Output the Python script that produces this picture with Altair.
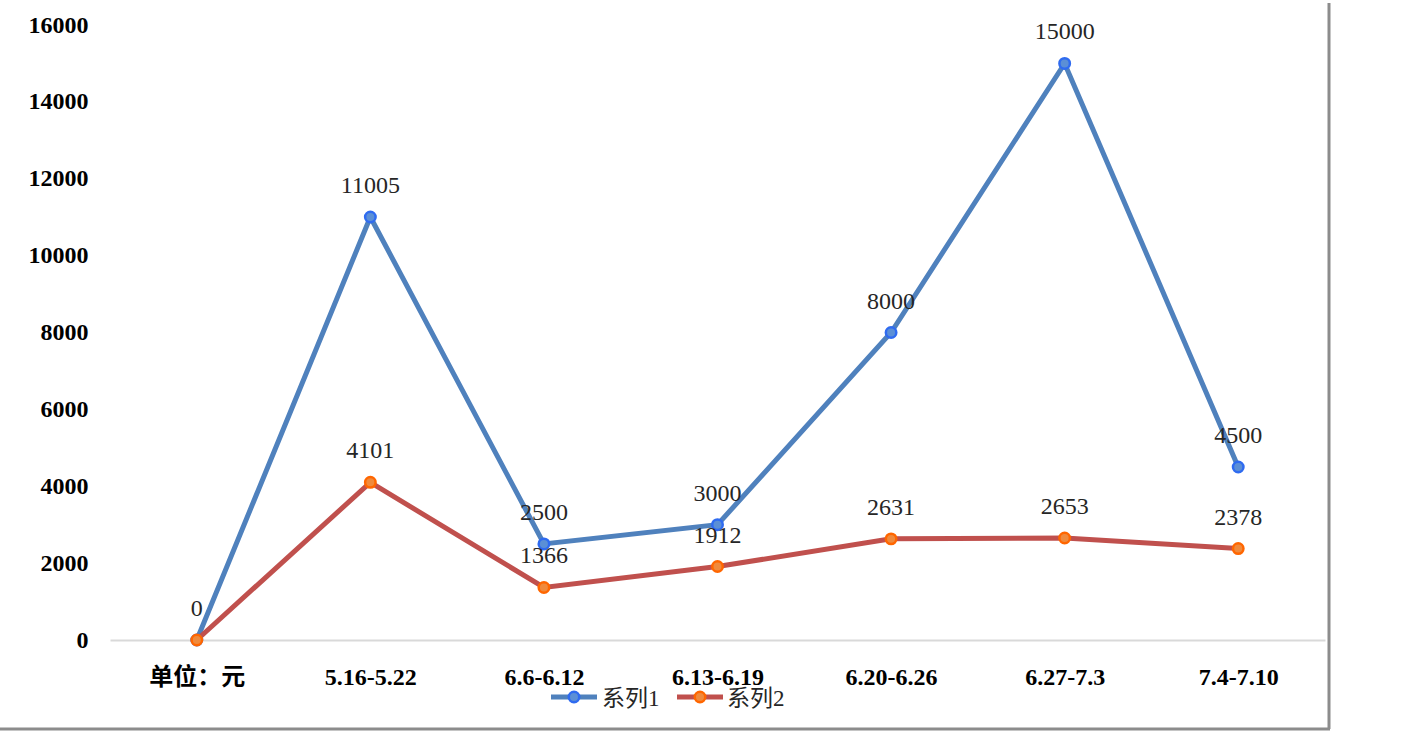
import altair as alt
import pandas as pd

categories = ["单位：元", "5.16-5.22", "6.6-6.12", "6.13-6.19", "6.20-6.26", "6.27-7.3", "7.4-7.10"]
series_names = ["系列1", "系列2"]
series1 = [0, 11005, 2500, 3000, 8000, 15000, 4500]
series2 = [0, 4101, 1366, 1912, 2631, 2653, 2378]
y_ticks = [0, 2000, 4000, 6000, 8000, 10000, 12000, 14000, 16000]

line_colors = ["#4F81BD", "#C0504D"]
point_fill = ["#5B8FD6", "#F08A3C"]
point_stroke = ["#2F6BF0", "#FF6600"]

FONT = "Liberation Serif, Noto Sans CJK SC"

rows = []
for name, vals in zip(series_names, [series1, series2]):
    for i, (c, v) in enumerate(zip(categories, vals)):
        rows.append({"cat": c, "order": i, "series": name, "value": v})
df = pd.DataFrame(rows)

W, H = 1215, 615

x_enc = alt.X("cat:N", sort=categories, scale=alt.Scale(domain=categories, paddingInner=0, paddingOuter=0),
              axis=alt.Axis(title=None, labelAngle=0, labelFont=FONT, labelFontSize=24, labelFontWeight="bold",
                            labelColor="#000000", labelPadding=25, ticks=False, domainColor="#D9D9D9",
                            domainWidth=2, grid=False))
y_enc = alt.Y("value:Q", scale=alt.Scale(domain=[0, 16000], nice=False),
              axis=alt.Axis(title=None, values=y_ticks, format="d", labelFont=FONT, labelFontSize=24,
                            labelFontWeight="bold", labelColor="#000000", labelPadding=22, ticks=False,
                            domain=False, grid=False))

layers = []
for k, name in enumerate(series_names):
    d = df[df.series == name]
    base = alt.Chart(d)
    layers.append(base.mark_line(color=line_colors[k], strokeWidth=5).encode(x=x_enc, y=y_enc, order="order:Q"))

for k, name in enumerate(series_names):
    d = df[df.series == name]
    base = alt.Chart(d)
    layers.append(base.mark_point(filled=True, shape="circle", size=110, fill=point_fill[k],
                                  stroke=point_stroke[k], strokeWidth=2.5, opacity=1).encode(x=x_enc, y=y_enc))

for k, name in enumerate(series_names):
    d = df[df.series == name]
    if k == 1:
        d = d[d.order > 0]
    base = alt.Chart(d)
    layers.append(base.mark_text(font=FONT, fontSize=24, color="#262626", dy=-31).encode(
        x=x_enc, y=y_enc, text="value:Q"))

# legend (manual)
leg_y = 672
leg_pos = [(441, 487, 464, 492), (567, 613, 590, 617)]
leg_df = pd.DataFrame({"series": series_names})
for k, name in enumerate(series_names):
    x1, x2, xc, xt = leg_pos[k]
    one = alt.Chart(leg_df[leg_df.series == name])
    layers.append(one.mark_rule(color=line_colors[k], strokeWidth=5).encode(
        x=alt.value(x1), x2=alt.value(x2), y=alt.value(leg_y)))
    layers.append(one.mark_point(filled=True, shape="circle", size=110, fill=point_fill[k],
                                 stroke=point_stroke[k], strokeWidth=2.5, opacity=1).encode(
        x=alt.value(xc), y=alt.value(leg_y)))
    layers.append(one.mark_text(font=FONT, fontSize=23, color="#262626", align="left", baseline="middle").encode(
        x=alt.value(xt), y=alt.value(leg_y + 2), text="series:N"))

# frame (shadow border)
frame = alt.Chart(leg_df.head(1))
layers.append(frame.mark_rule(color="#8C8C8C", strokeWidth=3).encode(
    x=alt.value(1219), y=alt.value(-22), y2=alt.value(704)))
layers.append(frame.mark_rule(color="#8C8C8C", strokeWidth=3).encode(
    x=alt.value(-110), x2=alt.value(1220), y=alt.value(704)))

chart = alt.layer(*layers).properties(
    width=W, height=H,
    padding={"left": 110, "top": 25, "right": 80, "bottom": 104},
    autosize=alt.AutoSizeParams(type="none"),
    background="white",
).configure_view(stroke=None)

chart.save("out.html", embed_options={"renderer": "svg", "actions": False})
